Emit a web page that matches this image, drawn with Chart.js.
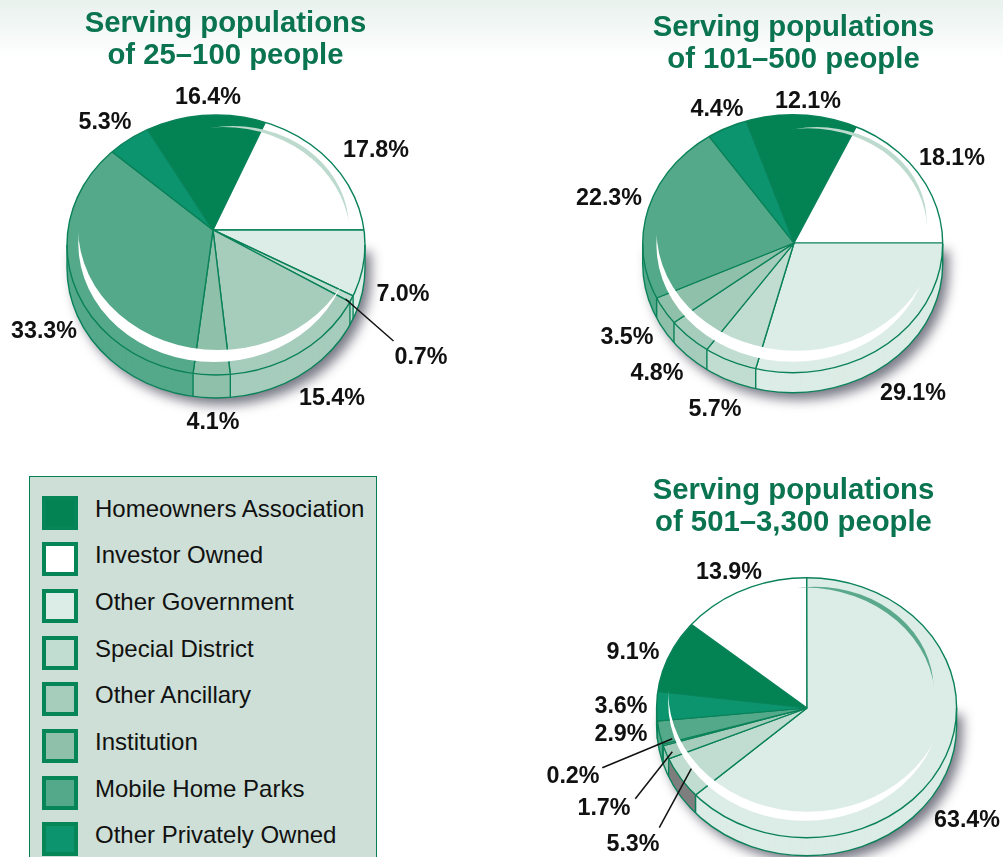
<!DOCTYPE html>
<html lang="en">
<head>
    <meta charset="UTF-8">
    <title>Water systems by ownership type</title>
    <script src="https://cdn.jsdelivr.net/npm/chart.js"></script>
    <style>
        html, body {
            margin: 0;
            width: 1003px;
            height: 857px;
            overflow: hidden;
        }
        body {
            position: relative;
            font-family: "Liberation Sans", Arial, sans-serif;
            background: linear-gradient(#e8f1ed 0, #ffffff 58px) no-repeat;
        }
        canvas {
            position: absolute;
        }
        .title {
            position: absolute;
            transform: translateX(-50%);
            width: 400px;
            text-align: center;
            font-weight: bold;
            font-size: 29.3px;
            line-height: 32px;
            color: #0a7350;
        }
        .label {
            position: absolute;
            transform: translate(-50%, -50%);
            font-weight: bold;
            font-size: 23.3px;
            color: #111;
            white-space: nowrap;
        }
        #legend {
            position: absolute;
            left: 29px;
            top: 476px;
            width: 346px;
            height: 400px;
            background: #cddfd6;
            border: 1.5px solid #0a7d55;
        }
        .swatch {
            position: absolute;
            left: 12px;
            width: 28px;
            height: 26px;
            border: 4px solid #068657;
        }
        .entry {
            position: absolute;
            left: 65px;
            font-size: 24px;
            line-height: 30px;
            color: #111;
            white-space: nowrap;
        }
    </style>
</head>
<body>
    <div id="legend"></div>

    <script>
        const categories = ['Homeowners Association', 'Investor Owned', 'Other Government', 'Special District',
            'Other Ancillary', 'Institution', 'Mobile Home Parks', 'Other Privately Owned'];
        const sliceColors = ['#038354', '#ffffff', '#dcece6', '#c1ddd1', '#a6ccbc', '#8fc0aa', '#55a98b', '#0c946e'];
        const lineColor = '#0a8259';

        // same order as categories
        const values25to100 = [16.4, 17.8, 7.0, 0.7, 15.4, 4.1, 33.3, 5.3];
        const values101to500 = [12.1, 18.1, 29.1, 5.7, 4.8, 3.5, 22.3, 4.4];
        const values501to3300 = [9.1, 13.9, 63.4, 5.3, 1.7, 0.2, 2.9, 3.6];

        const labelPos25to100 = [[208, 96], [376, 149], [403, 293], [421, 356], [332, 397], [213, 421], [44, 330], [105, 121]];
        const labelPos101to500 = [[808, 100], [952, 157], [913, 392], [715, 408], [657, 372], [627, 336], [609, 197], [717, 108]];
        const labelPos501to3300 = [[633, 651], [729, 571], [967, 819], [633, 843], [604, 807], [573, 775], [621, 733], [621, 705]];

        const pies = [
            {
                title: ['Serving populations', 'of 25–100 people'], titleX: 225.5, titleY: 6,
                values: values25to100, labelPos: labelPos25to100, firstAngle: 90, squash: 1,
                apex: [212.5, 230], face: { cx: 215.5, cy: 245, rx: 149, ry: 130 }, depth: 23,
                white: [[78, 237], [340, 287], [212, 362], [212, 350]],
                shine: [[217, 127], [348, 220], [317, 158], [314, 161]], shineColor: '#bcdacd',
                leaders: [[345, 299, 393, 341]]
            },
            {
                title: ['Serving populations', 'of 101–500 people'], titleX: 793.5, titleY: 10,
                values: values101to500, labelPos: labelPos101to500, firstAngle: 90, squash: 0.865,
                apex: [794.3, 243.3], face: { cx: 793, cy: 244, rx: 150, ry: 129 }, depth: 20,
                white: [[657, 237], [920, 287], [794, 362], [794, 351]],
                shine: [[797, 129], [927, 222], [897, 157], [894, 160]], shineColor: '#bcdacd',
                leaders: []
            },
            {
                title: ['Serving populations', 'of 501–3,300 people'], titleX: 793.5, titleY: 473,
                values: values501to3300, labelPos: labelPos501to3300, firstAngle: 0, squash: 0.865,
                apex: [806.7, 708.3], face: { cx: 806.3, cy: 708, rx: 150, ry: 130 }, depth: 18,
                white: [[668, 697], [932, 745], [807, 821], [807, 812]],
                shine: [[798, 588], [933, 682], [905, 623], [902, 626]], shineColor: '#5aa98c',
                rimColors: { 3: '#7f7f7f' },
                leaders: [[672, 739, 602, 768], [672, 752, 635, 799], [691, 769, 659, 828]]
            }
        ];

        const canvasSize = 460;

        // circle through three points, after stretching y by the aspect ratio
        function ellipseThrough(a, b, c, aspect) {
            const ax = a[0], ay = a[1] * aspect, bx = b[0], by = b[1] * aspect, cx = c[0], cy = c[1] * aspect;
            const d = 2 * (ax * (by - cy) + bx * (cy - ay) + cx * (ay - by));
            const a2 = ax * ax + ay * ay, b2 = bx * bx + by * by, c2 = cx * cx + cy * cy;
            const ux = (a2 * (by - cy) + b2 * (cy - ay) + c2 * (ay - by)) / d;
            const uy = (a2 * (cx - bx) + b2 * (ax - cx) + c2 * (bx - ax)) / d;
            const r = Math.hypot(ax - ux, ay - uy);
            return { cx: ux, cy: uy / aspect, rx: r, ry: r / aspect };
        }

        function ellipsePath(ctx, e) {
            ctx.beginPath();
            ctx.ellipse(e.cx, e.cy, e.rx, e.ry, 0, 0, Math.PI * 2);
        }

        // crescent between two ellipses sharing both tips
        function drawLune(ctx, spec, aspect, color) {
            const outer = ellipseThrough(spec[0], spec[1], spec[2], aspect);
            const inner = ellipseThrough(spec[0], spec[1], spec[3], aspect);
            ctx.save();
            ellipsePath(ctx, outer);
            ctx.clip();
            ellipsePath(ctx, inner);
            ctx.rect(-2000, -2000, 5000, 5000);
            ctx.fillStyle = color;
            ctx.fill('evenodd');
            ctx.restore();
        }

        // where a slice edge leaving the apex meets the face ellipse
        function edgeHit(x, y, angle, squash, e) {
            const ux = Math.cos(angle), uy = Math.sin(angle) * squash;
            const dx = ux / e.rx, dy = uy / e.ry;
            const px = (x - e.cx) / e.rx, py = (y - e.cy) / e.ry;
            const a = dx * dx + dy * dy, b = 2 * (px * dx + py * dy), c = px * px + py * py - 1;
            const t = (-b + Math.sqrt(b * b - 4 * a * c)) / (2 * a);
            return [x + ux * t, y + uy * t];
        }

        function rimPath(ctx, e, depth) {
            ctx.beginPath();
            ctx.moveTo(e.cx + e.rx, e.cy);
            ctx.lineTo(e.cx + e.rx, e.cy + depth);
            ctx.ellipse(e.cx, e.cy + depth, e.rx, e.ry, 0, 0, Math.PI);
            ctx.lineTo(e.cx - e.rx, e.cy);
        }

        // flatten the pie around its apex
        function squashAround(ctx, arc, squash) {
            ctx.translate(arc.x, arc.y);
            ctx.scale(1, squash);
            ctx.translate(-arc.x, -arc.y);
        }

        const tiltedPie = {
            id: 'tiltedPie',
            beforeDatasetsDraw(chart, args, opts) {
                const { ctx } = chart;
                const { pie, offset } = opts;
                const face = { cx: pie.face.cx - offset[0], cy: pie.face.cy - offset[1], rx: pie.face.rx, ry: pie.face.ry };
                const arcs = chart.getDatasetMeta(0).data;

                // soft shadow
                ctx.save();
                ctx.shadowColor = 'rgba(50,50,70,0.65)';
                ctx.shadowBlur = 12;
                ctx.shadowOffsetX = 6;
                ctx.shadowOffsetY = 7;
                ctx.fillStyle = '#ffffff';
                rimPath(ctx, face, pie.depth);
                ctx.fill();
                ctx.restore();

                // side wall: the slices swept straight down
                const saved = arcs.map(arc => arc.options);
                arcs.forEach((arc, i) => {
                    arc.options = Object.assign({}, saved[i], { borderWidth: 0 });
                    if (pie.rimColors && pie.rimColors[i]) arc.options.backgroundColor = pie.rimColors[i];
                });
                for (let step = pie.depth; step >= 1; step--) {
                    ctx.save();
                    ctx.translate(0, step);
                    ellipsePath(ctx, face);
                    ctx.clip();
                    squashAround(ctx, arcs[0], pie.squash);
                    arcs.forEach(arc => arc.draw(ctx));
                    ctx.restore();
                }
                arcs.forEach((arc, i) => { arc.options = saved[i]; });

                ctx.save();
                ellipsePath(ctx, face);
                ctx.clip();
                squashAround(ctx, arcs[0], pie.squash);
            },
            afterDatasetsDraw(chart, args, opts) {
                const { ctx } = chart;
                const { pie, offset } = opts;
                ctx.restore();

                const face = { cx: pie.face.cx - offset[0], cy: pie.face.cy - offset[1], rx: pie.face.rx, ry: pie.face.ry };
                const aspect = face.rx / face.ry;

                ctx.save();
                ctx.translate(-offset[0], -offset[1]);
                drawLune(ctx, pie.white, aspect, '#ffffff');
                drawLune(ctx, pie.shine, aspect, pie.shineColor);
                ctx.restore();

                ctx.strokeStyle = lineColor;
                ctx.lineWidth = 1.4;
                ellipsePath(ctx, face);
                ctx.stroke();
                rimPath(ctx, face, pie.depth);
                ctx.stroke();

                chart.getDatasetMeta(0).data.forEach(arc => {
                    const hit = edgeHit(arc.x, arc.y, arc.startAngle, pie.squash, face);
                    if (hit[1] < face.cy) return;
                    ctx.beginPath();
                    ctx.moveTo(hit[0], hit[1]);
                    ctx.lineTo(hit[0], hit[1] + pie.depth);
                    ctx.stroke();
                });

                ctx.strokeStyle = '#111111';
                ctx.lineWidth = 1.5;
                pie.leaders.forEach(l => {
                    ctx.beginPath();
                    ctx.moveTo(l[0] - offset[0], l[1] - offset[1]);
                    ctx.lineTo(l[2] - offset[0], l[3] - offset[1]);
                    ctx.stroke();
                });
            }
        };

        pies.forEach(pie => {
            const canvas = document.createElement('canvas');
            canvas.width = canvasSize;
            canvas.height = canvasSize;
            const offset = [pie.apex[0] - canvasSize / 2, pie.apex[1] - canvasSize / 2];
            canvas.style.left = offset[0] + 'px';
            canvas.style.top = offset[1] + 'px';
            document.body.appendChild(canvas);

            new Chart(canvas.getContext('2d'), {
                type: 'pie',
                data: {
                    labels: categories,
                    datasets: [{
                        data: pie.values,
                        backgroundColor: sliceColors,
                        borderColor: lineColor,
                        borderWidth: 1.4
                    }]
                },
                options: {
                    responsive: false,
                    animation: false,
                    // Other Government always comes right after the two leading categories
                    rotation: pie.firstAngle - (pie.values[0] + pie.values[1]) * 3.6,
                    plugins: {
                        legend: { display: false },
                        tooltip: { enabled: false },
                        tiltedPie: { pie: pie, offset: offset }
                    }
                },
                plugins: [tiltedPie]
            });

            const title = document.createElement('div');
            title.className = 'title';
            title.style.left = pie.titleX + 'px';
            title.style.top = pie.titleY + 'px';
            title.innerHTML = pie.title.join('<br>');
            document.body.appendChild(title);

            pie.values.forEach((value, i) => {
                const label = document.createElement('div');
                label.className = 'label';
                label.style.left = pie.labelPos[i][0] + 'px';
                label.style.top = pie.labelPos[i][1] + 'px';
                label.textContent = value.toFixed(1) + '%';
                document.body.appendChild(label);
            });
        });

        const legend = document.getElementById('legend');
        categories.forEach((name, i) => {
            const y = 18.5 + i * 46.7;
            const swatch = document.createElement('div');
            swatch.className = 'swatch';
            swatch.style.top = y + 'px';
            swatch.style.background = sliceColors[i];
            legend.appendChild(swatch);

            const entry = document.createElement('div');
            entry.className = 'entry';
            entry.style.top = (y - 2) + 'px';
            entry.textContent = name;
            legend.appendChild(entry);
        });
    </script>
</body>
</html>
